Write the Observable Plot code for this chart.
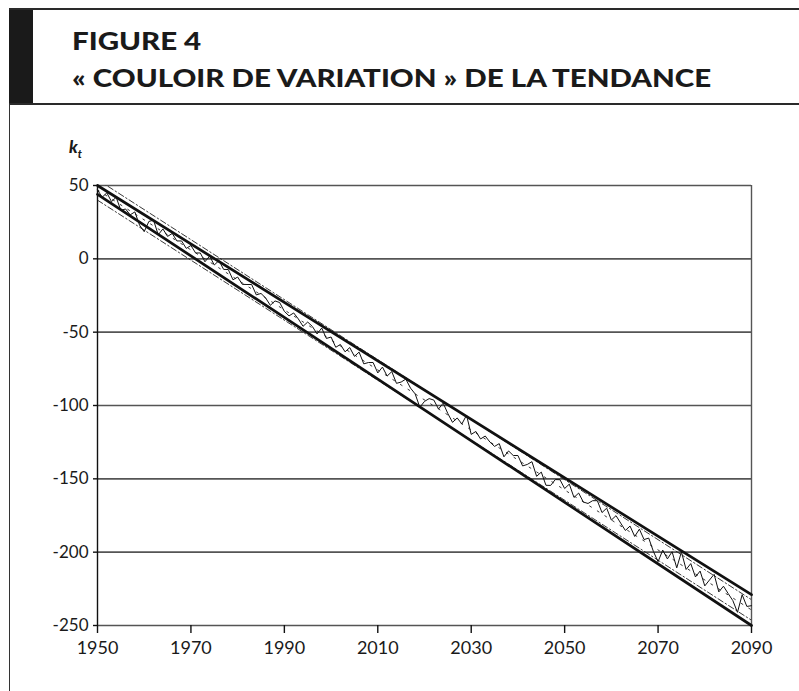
<!DOCTYPE html>
<html><head><meta charset="utf-8">
<script src="https://cdn.jsdelivr.net/npm/d3@7"></script>
<script src="https://cdn.jsdelivr.net/npm/@observablehq/plot@0.6"></script>
<style>
body{margin:0;background:#fff;width:799px;height:691px;overflow:hidden;position:relative;font-family:Lato,"Open Sans",sans-serif;}
#head{position:absolute;left:9px;top:8px;width:790px;height:93px;border-top:2px solid #2a2a2a;border-bottom:2px solid #2a2a2a;}
#bar{position:absolute;left:0;top:0;width:24px;height:100%;background:#1a1a1a;}
.t{position:absolute;left:63px;font-weight:900;font-size:25px;line-height:25px;color:#1a1a1a;white-space:nowrap;transform:scaleX(1.18);transform-origin:0 0;}
#frame{position:absolute;left:9px;top:104px;bottom:0;border-left:1.5px solid #333;}
#chart{position:absolute;left:0;top:110px;}
#kt{position:absolute;left:69px;top:138px;font-style:italic;font-weight:900;font-size:17px;line-height:17px;color:#1a1a1a}
#kt sub{font-size:11px;font-weight:900;position:relative;top:1px}
</style></head>
<body>
<div id="head"><div id="bar"></div>
<div class="t" style="top:18px">FIGURE 4</div>
<div class="t" style="top:55px">« COULOIR DE VARIATION » DE LA TENDANCE</div>
</div>
<div id="frame"></div>
<div id="kt">k<sub>t</sub></div>
<div id="chart"></div>
<script>
const years = d3.range(1950, 2091);
const kt = [
 47, 42, 45, 39, 42, 33, 34, 30, 32, 23,
 18.5, 25.5, 26.4, 16.4, 20.4, 15.3, 17.3, 12.2, 12.2, 7.1,
 9.1, 4, 4, -2, 1.9, -4.2, -1.2, -7.2, -7.3, -14.3,
 -12.4, -17.4, -17.5, -17.5, -24.6, -23.6, -26.7, -31.7, -28.7, -29.8,
 -35.8, -38.9, -36.9, -41, -46, -43.1, -46.1, -51.2, -47.2, -54.3,
 -53.3, -60.3, -58.4, -63.4, -60.5, -66.5, -63.6, -71.6, -70.7, -70.7,
 -77.8, -73.8, -79.9, -76.9, -84.9, -84, -82, -88.1, -92.1, -101.2,
 -97.2, -95.3, -96.3, -102.4, -98.4, -105.5, -111.5, -108.5, -112.6, -106.6,
 -119.7, -117.7, -122.8, -120.8, -124.9, -127.9, -126, -135, -131, -134.1,
 -134.1, -141.2, -140.2, -138.3, -148.3, -145.4, -154.4, -154.5, -150.5, -150.6,
 -156.6, -153.6, -162.7, -159.7, -165.8, -166.8, -164.9, -164.9, -173, -170,
 -178.1, -175.1, -180.2, -185.2, -182.2, -189.3, -184.3, -191.4, -190.4, -199.5,
 -206.5, -198.6, -204.6, -199.7, -210.7, -199.8, -211.8, -207.8, -216.9, -212.9,
 -223, -219, -215.1, -227.1, -223.2, -228.2, -233, -241, -229, -237,
 -236.5
];
const trendYears = [1950, 2090];
const upperThick = [50, -229];
const lowerThick = [44, -250];
const trendCenter = [47, -239.4];
const bandUpper = [54, -232.4];
const bandLower = [40, -246.4];
const xTicks = [1950, 1970, 1990, 2010, 2030, 2050, 2070, 2090];
const yTicks = [50, 0, -50, -100, -150, -200, -250];

const series = years.map((y, i) => ({year: y, k: kt[i]}));
const seg = arr => trendYears.map((y, i) => ({year: y, k: arr[i]}));

const chart = Plot.plot({
  width: 799, height: 581,
  marginLeft: 97, marginRight: 48, marginTop: 75, marginBottom: 66,
  style: {fontFamily: "Lato, 'Open Sans', sans-serif", fontSize: "17px", color: "#1a1a1a"},
  x: {domain: [1950, 2090]},
  y: {domain: [-250, 50]},
  marks: [
    Plot.ruleY(yTicks, {stroke: "#555", strokeWidth: 1.6}),
    Plot.ruleX([2090], {y1: -250, y2: 50, stroke: "#555", strokeWidth: 1.4}),
    Plot.line(seg(bandUpper), {x: "year", y: "k", stroke: "#222", strokeWidth: 0.9, strokeDasharray: "6,2.5,1.5,2.5", clip: true}),
    Plot.line(seg(bandLower), {x: "year", y: "k", stroke: "#222", strokeWidth: 0.9, strokeDasharray: "6,2.5,1.5,2.5", clip: true}),
    Plot.line(seg(trendCenter), {x: "year", y: "k", stroke: "#222", strokeWidth: 0.9, strokeDasharray: "2,7", clip: true}),
    Plot.line(series, {x: "year", y: "k", stroke: "#111", strokeWidth: 1}),
    Plot.line(seg(upperThick), {x: "year", y: "k", stroke: "#111", strokeWidth: 2.7}),
    Plot.line(seg(lowerThick), {x: "year", y: "k", stroke: "#111", strokeWidth: 2.7}),
    Plot.ruleX([1950], {y1: -250, y2: 50, stroke: "#111", strokeWidth: 1.4}),
    Plot.axisX({ticks: xTicks, tickFormat: d => String(d), tickSize: 8, tickPadding: 8, label: null, stroke: "#111", strokeWidth: 1.4, fontSize: 18}),
    Plot.axisY({ticks: yTicks, tickFormat: d => String(d), tickSize: 4, tickPadding: 5, label: null, stroke: "#111", strokeWidth: 1.4, fontSize: 17})
  ]
});
document.getElementById("chart").appendChild(chart);
</script>
</body></html>
